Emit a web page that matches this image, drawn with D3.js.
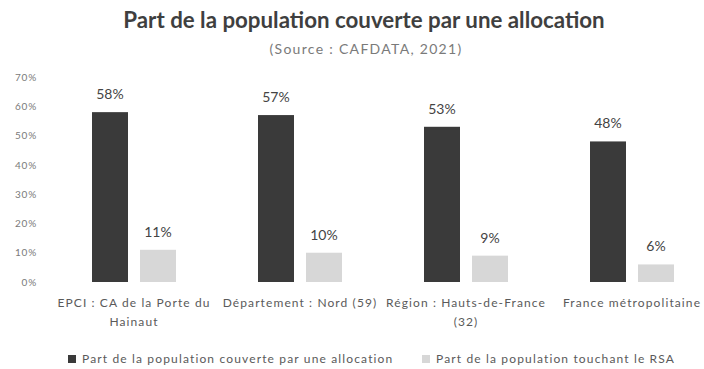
<!DOCTYPE html>
<html>
<head>
<meta charset="utf-8">
<script src="https://cdn.jsdelivr.net/npm/d3@7"></script>
<style>
  html, body { margin: 0; padding: 0; background: #ffffff; }
  svg { display: block; font-family: "Lato", "Open Sans", sans-serif; }
</style>
</head>
<body>
<svg id="chart" width="704" height="369"></svg>
<script>
// Data
const categories = [
  ["EPCI : CA de la Porte du", "Hainaut"],
  ["Département : Nord (59)"],
  ["Région : Hauts-de-France", "(32)"],
  ["France métropolitaine"]
];
const seriesNames = [
  "Part de la population couverte par une allocation",
  "Part de la population touchant le RSA"
];
const allocationValues = [58, 57, 53, 48];
const rsaValues = [11, 10, 9, 6];
const yTicks = [0, 10, 20, 30, 40, 50, 60, 70];
const seriesColors = ["#3a3a3a", "#d7d7d7"];

const svg = d3.select("#chart");

// Scales
const x0 = d3.scaleBand()
  .domain(d3.range(categories.length))
  .range([51, 715])
  .paddingInner(0.494)
  .paddingOuter(0.247);
const x1 = d3.scaleBand()
  .domain([0, 1])
  .range([0, x0.bandwidth()])
  .paddingInner(0.25);
const y = d3.scaleLinear().domain([0, 70]).range([282, 77]);

// Title and source line
svg.append("text")
  .attr("x", 364).attr("y", 28)
  .attr("text-anchor", "middle")
  .attr("font-size", 22.3).attr("font-weight", 700)
  .attr("fill", "#3f3f3f")
  .text("Part de la population couverte par une allocation");
svg.append("text")
  .attr("x", 366).attr("y", 54)
  .attr("text-anchor", "middle")
  .attr("font-size", 14)
  .attr("letter-spacing", 1.3)
  .attr("fill", "#7a7a7a")
  .text("(Source : CAFDATA, 2021)");

// Y axis
const yAxis = d3.axisLeft(y)
  .tickValues(yTicks)
  .tickFormat(d => d + "%")
  .tickSize(0)
  .tickPadding(0);
const gy = svg.append("g").attr("transform", "translate(37,0)").call(yAxis);
gy.select(".domain").remove();
gy.selectAll("text")
  .attr("font-size", 10)
  .attr("letter-spacing", 0.8)
  .attr("fill", "#7a7a7a")
  .attr("font-family", "Lato, sans-serif");

// Bars
const groups = svg.append("g").selectAll("g")
  .data(categories.map((c, i) => [allocationValues[i], rsaValues[i]]))
  .join("g")
  .attr("transform", (d, i) => `translate(${x0(i)},0)`);

groups.selectAll("rect")
  .data(d => d.map((v, s) => ({ v, s })))
  .join("rect")
  .attr("x", d => x1(d.s))
  .attr("y", d => y(d.v))
  .attr("width", x1.bandwidth())
  .attr("height", d => y(0) - y(d.v))
  .attr("fill", d => seriesColors[d.s]);

groups.selectAll("text.val")
  .data(d => d.map((v, s) => ({ v, s })))
  .join("text")
  .attr("class", "val")
  .attr("x", d => x1(d.s) + x1.bandwidth() / 2)
  .attr("y", d => y(d.v) - 13)
  .attr("text-anchor", "middle")
  .attr("font-size", 14)
  .attr("fill", "#444444")
  .text(d => d.v + "%");

// Category labels
const catLabels = svg.append("g").selectAll("text")
  .data(categories)
  .join("text")
  .attr("x", (d, i) => x0(i) + x0.bandwidth() / 2)
  .attr("y", 307)
  .attr("text-anchor", "middle")
  .attr("font-size", 12)
  .attr("letter-spacing", 1.1)
  .attr("fill", "#5a5a5a");
catLabels.selectAll("tspan")
  .data(d => d)
  .join("tspan")
  .attr("x", function () { return d3.select(this.parentNode).attr("x"); })
  .attr("dy", (d, i) => i === 0 ? 0 : 19)
  .text(d => d);

// Legend
const legendX = [68, 422];
const legend = svg.append("g").selectAll("g")
  .data(seriesNames)
  .join("g")
  .attr("transform", (d, i) => `translate(${legendX[i]},363)`);
legend.append("rect")
  .attr("x", 0).attr("y", -8)
  .attr("width", 8).attr("height", 8)
  .attr("fill", (d, i) => seriesColors[i]);
legend.append("text")
  .attr("x", 14).attr("y", 0)
  .attr("font-size", 12)
  .attr("letter-spacing", 1.15)
  .attr("fill", "#5a5a5a")
  .text(d => d);
</script>
</body>
</html>
